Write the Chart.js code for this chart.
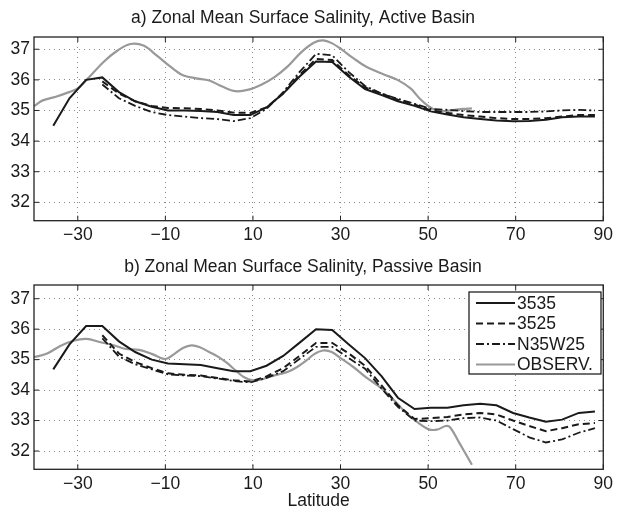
<!DOCTYPE html>
<html>
<head>
<meta charset="utf-8">
<script src="https://cdn.jsdelivr.net/npm/chart.js@4.4.0/dist/chart.umd.min.js"></script>
<style>
html, body { margin: 0; padding: 0; background: #fff; }
#wrap { position: relative; width: 617px; height: 512px; }
canvas { position: absolute; left: 0; }
</style>
</head>
<body>
<div id="wrap">
  <canvas id="chartA" width="617" height="256" style="top:0"></canvas>
  <canvas id="chartB" width="617" height="256" style="top:256px"></canvas>
</div>
<script>
// model latitudes (3.75 degree grid)
const modelLat = [-35.6, -31.9, -28.1, -24.4, -20.6, -16.9, -13.1, -9.4, -5.6, -1.9, 1.9, 5.6, 9.4, 13.1, 16.9, 20.6,
  24.4, 28.1, 31.9, 35.6, 39.4, 43.1, 46.9, 50.6, 54.4, 58.1, 61.9, 65.6, 69.4, 73.1, 76.9, 80.6, 84.4, 88.1];

// a) active basin
const activeS3535 = [34.5, 35.4, 36.0, 36.08, 35.6, 35.3, 35.12, 35.0, 35.0, 34.98, 34.95, 34.85, 34.85, 35.1, 35.55, 36.1,
  36.6, 36.58, 36.1, 35.7, 35.5, 35.3, 35.15, 34.97, 34.87, 34.78, 34.72, 34.67, 34.65, 34.66, 34.7, 34.78, 34.8, 34.8];
const activeS3525 = [null, null, null, 35.95, 35.55, 35.3, 35.15, 35.08, 35.07, 35.05, 35.0, 34.93, 34.92, 35.1, 35.55, 36.15,
  36.68, 36.65, 36.15, 35.75, 35.55, 35.35, 35.2, 35.0, 34.92, 34.85, 34.8, 34.75, 34.72, 34.72, 34.75, 34.8, 34.85, 34.85];
const activeN35W25 = [null, null, null, 35.85, 35.4, 35.15, 34.95, 34.85, 34.8, 34.75, 34.72, 34.65, 34.75, 35.05, 35.6, 36.25,
  36.85, 36.8, 36.25, 35.8, 35.55, 35.38, 35.22, 35.05, 35.02, 34.98, 34.95, 34.95, 34.95, 34.95, 34.97, 35.0, 35.02, 35.0];
const activeObsLat = [-40, -38, -35, -32, -30, -28, -24, -21, -18, -15, -12, -9, -6, -3, 0, 3, 6, 9, 12, 15, 18, 21, 24, 26,
  28, 30, 33, 36, 40, 43, 46, 48, 50, 52, 54, 56, 58, 60];
const activeObs = [35.14, 35.33, 35.45, 35.6, 35.72, 36.0, 36.6, 36.95, 37.17, 37.12, 36.8, 36.45, 36.15, 36.05, 35.98, 35.78,
  35.63, 35.68, 35.85, 36.1, 36.45, 36.9, 37.22, 37.29, 37.2, 37.02, 36.7, 36.42, 36.17, 36.0, 35.72, 35.4, 35.15, 35.0,
  34.98, 35.02, 35.05, 35.07];

// b) passive basin
const passiveS3535 = [34.68, 35.5, 36.1, 36.1, 35.6, 35.25, 35.0, 34.87, 34.85, 34.82, 34.72, 34.62, 34.62, 34.8, 35.12, 35.55,
  36.0, 35.97, 35.5, 35.05, 34.45, 33.75, 33.38, 33.42, 33.42, 33.5, 33.55, 33.5, 33.25, 33.1, 32.96, 33.03, 33.25, 33.3];
const passiveS3525 = [null, null, null, 35.8, 35.2, 34.92, 34.72, 34.55, 34.5, 34.48, 34.4, 34.32, 34.28, 34.45, 34.72, 35.12,
  35.55, 35.55, 35.2, 34.8, 34.15, 33.5, 33.05, 33.08, 33.12, 33.2, 33.25, 33.2, 33.0, 32.82, 32.65, 32.75, 32.88, 32.92];
const passiveN35W25 = [null, null, null, 35.7, 35.1, 34.85, 34.68, 34.52, 34.48, 34.46, 34.38, 34.3, 34.25, 34.4, 34.62, 35.02,
  35.42, 35.42, 35.05, 34.7, 34.05, 33.45, 33.0, 32.98, 33.0, 33.08, 33.1, 33.0, 32.72, 32.45, 32.28, 32.38, 32.6, 32.75];
const passiveObsLat = [-40, -37, -34, -31, -28, -25, -22, -19, -16, -13, -10, -8, -6, -4, -2, 0, 2, 4, 6, 8, 10, 12, 14, 16,
  18, 20, 22, 24, 26, 28, 30, 33, 36, 39, 42, 45, 48, 50, 52, 54, 55, 57, 60];
const passiveObs = [35.08, 35.2, 35.45, 35.62, 35.68, 35.58, 35.48, 35.35, 35.32, 35.18, 35.02, 35.18, 35.38, 35.47, 35.4,
  35.25, 35.1, 34.9, 34.65, 34.42, 34.32, 34.35, 34.45, 34.52, 34.6, 34.75, 34.95, 35.18, 35.3, 35.25, 35.05, 34.75, 34.4,
  34.1, 33.7, 33.25, 32.9, 32.72, 32.7, 32.82, 32.78, 32.3, 31.55];

const seriesNames = ['3535', '3525', 'N35W25', 'OBSERV.'];
const xTicks = [-30, -10, 10, 30, 50, 70, 90];
const yTicks = [32, 33, 34, 35, 36, 37];

Chart.defaults.font.family = '"Liberation Sans", Arial, Helvetica, sans-serif';
Chart.defaults.color = '#1a1a1a';

function pts(xs, ys) {
  return xs.map((x, i) => ({ x: x, y: ys[i] })).filter(p => p.y !== null);
}

// frame, inward ticks and the boxed legend (matlab look)
const framePlugin = {
  id: 'frame',
  afterDraw(chart, args, opts) {
    const { ctx, chartArea: a, scales } = chart;
    ctx.save();
    ctx.strokeStyle = '#222';
    ctx.lineWidth = 1.3;
    ctx.setLineDash([]);
    ctx.strokeRect(a.left, a.top, a.right - a.left, a.bottom - a.top);
    ctx.beginPath();
    scales.x.ticks.forEach(t => {
      const px = scales.x.getPixelForValue(t.value);
      ctx.moveTo(px, a.bottom); ctx.lineTo(px, a.bottom - 5);
      ctx.moveTo(px, a.top); ctx.lineTo(px, a.top + 5);
    });
    scales.y.ticks.forEach(t => {
      const py = scales.y.getPixelForValue(t.value);
      ctx.moveTo(a.left, py); ctx.lineTo(a.left + 5, py);
      ctx.moveTo(a.right, py); ctx.lineTo(a.right - 5, py);
    });
    ctx.lineWidth = 1;
    ctx.stroke();

    if (opts.legend) {
      const bx = 469, by = 36, bw = 132, bh = 82;
      ctx.fillStyle = '#fff';
      ctx.fillRect(bx, by, bw, bh);
      ctx.strokeStyle = '#222';
      ctx.lineWidth = 1.3;
      ctx.strokeRect(bx, by, bw, bh);
      ctx.font = '17.5px "Liberation Sans", Arial, sans-serif';
      ctx.textBaseline = 'middle';
      ctx.textAlign = 'left';
      chart.data.datasets.forEach((ds, i) => {
        const y = by + 11 + i * 20.5;
        ctx.beginPath();
        ctx.strokeStyle = ds.borderColor;
        ctx.lineWidth = ds.borderWidth;
        ctx.setLineDash(ds.borderDash || []);
        ctx.moveTo(bx + 7, y);
        ctx.lineTo(bx + 46, y);
        ctx.stroke();
        ctx.setLineDash([]);
        ctx.fillStyle = '#1a1a1a';
        ctx.fillText(ds.label, bx + 48, y + 1);
      });
    }
    ctx.restore();
  }
};

function makeChart(id, title, titlePad, yMax, xHeight, s1, s2, s3, obsLat, obs, withLegend, withXTitle) {
  return new Chart(document.getElementById(id), {
    type: 'line',
    data: {
      datasets: [
        { label: seriesNames[0], data: pts(modelLat, s1), borderColor: '#1a1a1a', borderWidth: 2, tension: 0 },
        { label: seriesNames[1], data: pts(modelLat, s2), borderColor: '#1a1a1a', borderWidth: 2, borderDash: [7, 4], tension: 0 },
        { label: seriesNames[2], data: pts(modelLat, s3), borderColor: '#1a1a1a', borderWidth: 1.8, borderDash: [8, 3, 2, 3], tension: 0 },
        { label: seriesNames[3], data: pts(obsLat, obs), borderColor: '#999999', borderWidth: 2.2, tension: 0.35 }
      ]
    },
    options: {
      responsive: false,
      animation: false,
      elements: { point: { radius: 0 } },
      layout: { padding: { left: 0, right: 11, top: 0, bottom: 0 } },
      plugins: {
        legend: { display: false },
        tooltip: { enabled: false },
        title: { display: true, text: title, font: { size: 17.5, weight: 'normal' }, color: '#1a1a1a', padding: titlePad },
        frame: { legend: withLegend }
      },
      scales: {
        x: {
          type: 'linear', min: -40, max: 90,
          afterBuildTicks: s => { s.ticks = xTicks.map(v => ({ value: v })); },
          afterFit: s => { s.height = xHeight; },
          ticks: { font: { size: 17.5 }, padding: 4, maxRotation: 0, color: '#1a1a1a',
            callback: v => String(v).replace('-', '\u2212') },
          grid: { color: '#8a8a8a', lineWidth: 1, drawTicks: false },
          border: { display: false, dash: [1, 4] },
          title: { display: withXTitle, text: 'Latitude', font: { size: 17.5 }, color: '#1a1a1a', padding: { top: 0, bottom: 0 } }
        },
        y: {
          min: 31.4, max: yMax,
          afterBuildTicks: s => { s.ticks = yTicks.map(v => ({ value: v })); },
          afterFit: s => { s.width = 34; },
          ticks: { font: { size: 17.5 }, padding: 4, color: '#1a1a1a' },
          grid: { color: '#8a8a8a', lineWidth: 1, drawTicks: false },
          border: { display: false, dash: [1, 4] }
        }
      }
    },
    plugins: [framePlugin]
  });
}

makeChart('chartA', 'a) Zonal Mean Surface Salinity, Active Basin', { top: 8, bottom: 8 }, 37.4, 35.3,
  activeS3535, activeS3525, activeN35W25, activeObsLat, activeObs, false, false);
makeChart('chartB', 'b) Zonal Mean Surface Salinity, Passive Basin', { top: 1, bottom: 7 }, 37.45, 42.7,
  passiveS3535, passiveS3525, passiveN35W25, passiveObsLat, passiveObs, true, true);
</script>
</body>
</html>
